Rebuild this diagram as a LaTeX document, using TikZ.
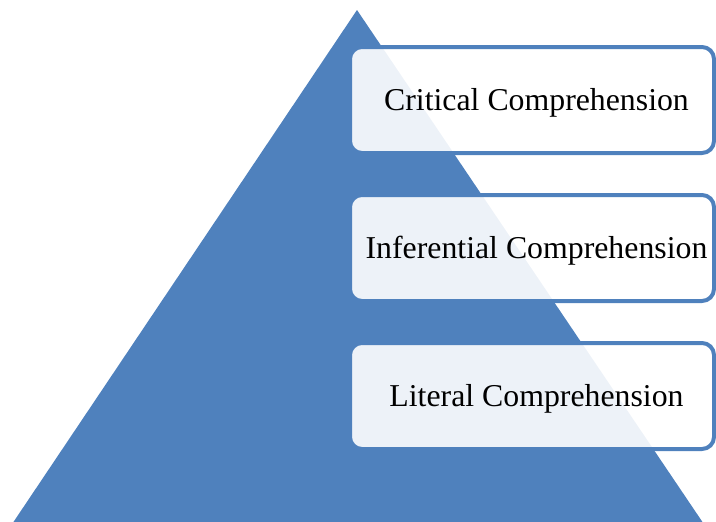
\documentclass[tikz,border=0pt]{standalone}
\usepackage{fontspec}
\setmainfont{Liberation Serif}
\definecolor{pyrblue}{HTML}{4F81BD}
\tikzset{
  level/.style={draw=pyrblue, line width=4pt, fill=white, fill opacity=0.9, text opacity=1,
    rounded corners=12pt, minimum width=364pt, minimum height=106pt, inner sep=0pt,
    text height=31pt, text depth=11pt,
    execute at begin node={\hspace*{9pt}},
    font=\fontsize{31.8}{38}\selectfont, text=black}
}
\begin{document}
\begin{tikzpicture}[x=1pt,y=-1pt]
\useasboundingbox (0,0) rectangle (716,522);
\clip (0,0) rectangle (716,522);
\fill[pyrblue] (357,10) -- (-2,545) -- (718,545) -- cycle;
\node[level] (crit) at (532,100) {Critical Comprehension};
\node[level] (inf) at (532,248) {Inferential Comprehension};
\node[level] (lit) at (532,396) {Literal Comprehension};
\end{tikzpicture}
\end{document}
